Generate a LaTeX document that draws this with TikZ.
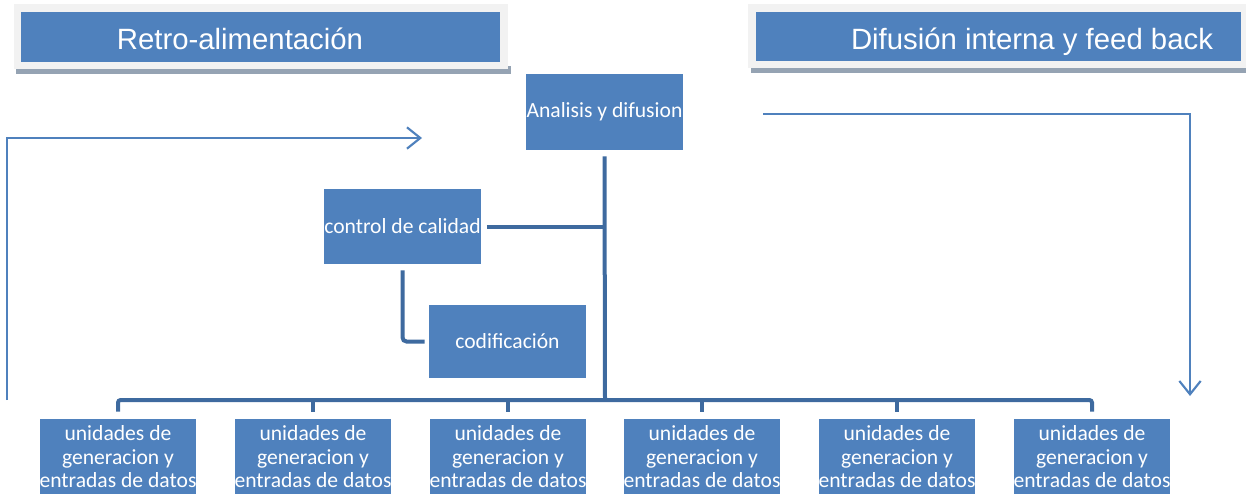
\documentclass[tikz,border=0pt]{standalone}
\usepackage{fontspec}
\setmainfont{Carlito}
\newfontfamily\hfont{Liberation Sans}
\usetikzlibrary{arrows.meta}
\definecolor{boxblue}{HTML}{4F81BD}
\definecolor{connblue}{HTML}{3E6A9F}
\definecolor{framegray}{HTML}{F2F2F2}
\definecolor{shadowgray}{HTML}{95A3B3}
\begin{document}
\begin{tikzpicture}[x=0.75pt,y=-0.75pt,
  box/.style={fill=boxblue, text=white, inner sep=0pt, align=center,
    font=\fontsize{16.2}{17.6}\selectfont},
  unit/.style={box, minimum width=117pt, minimum height=57pt},
  hdr/.style={fill=boxblue, inner sep=0pt},
  htext/.style={text=white, inner sep=0pt, anchor=base, font=\hfont\fontsize{22}{27}\selectfont},
  conn/.style={draw=connblue, line width=3pt, rounded corners=2pt},
  fb/.style={draw=boxblue, line width=1.6pt, -{Straight Barb[length=10pt,width=16pt]}}]
\useasboundingbox (0,0) rectangle (1246,493);
% header left
\fill[shadowgray] (16,66) rectangle (511,74);
\fill[framegray] (14,4) rectangle (508,69);
\node[hdr, minimum width=359.25pt, minimum height=37.5pt] (hL) at (260.5,37) {};
\node[htext] (hLt) at (240,49) {Retro-alimentación};
% header right
\fill[shadowgray] (751,66) rectangle (1246,73);
\fill[framegray] (748,4) rectangle (1246,68);
\node[hdr, minimum width=363.75pt, minimum height=36.75pt] (hR) at (998.5,36.5) {};
\node[htext] (hRt) at (1032,49.5) {Difusión interna y feed back};
% main boxes
\node[box, minimum width=117.75pt, minimum height=57pt] (ana) at (604.5,112) {Analisis y difusion};
\node[box, minimum width=116.25pt, minimum height=56.25pt] (ctl) at (402.5,226.5) {control de calidad};
\node[box, minimum width=117.75pt, minimum height=54.75pt] (cod) at (507.5,341.5) {codificación};
\foreach \i/\x in {1/118,2/313,3/508,4/702,5/897,6/1092}
  \node[unit] (u\i) at (\x,457) {unidades de\\generacion y\\entradas de datos};
% connectors
\coordinate (bus) at (605,400);
\draw[conn] ([yshift=-4.5pt]ana.south) -- (bus);
\draw[conn] ([xshift=4.5pt]ctl.east) -- (ctl.east -| bus);
\draw[conn, rounded corners=3pt] ([yshift=-4.5pt]ctl.south) |- ([xshift=-3pt]cod.west);
\draw[conn] ([yshift=5.25pt]u1.north) -- (u1.north |- bus) -- (u6.north |- bus) -- ([yshift=5.25pt]u6.north);
\foreach \i in {2,3,4,5}
  \draw[conn] (u\i.north |- bus) -- ([yshift=5.25pt]u\i.north);
% feedback arrows
\coordinate (fbLs) at (7,400);
\coordinate (fbLe) at (422,138);
\draw[fb] (fbLs) |- (fbLe);
\coordinate (fbRs) at (763,114);
\coordinate (fbRe) at (1190,396);
\draw[fb] (fbRs) -| (fbRe);
\end{tikzpicture}
\end{document}
